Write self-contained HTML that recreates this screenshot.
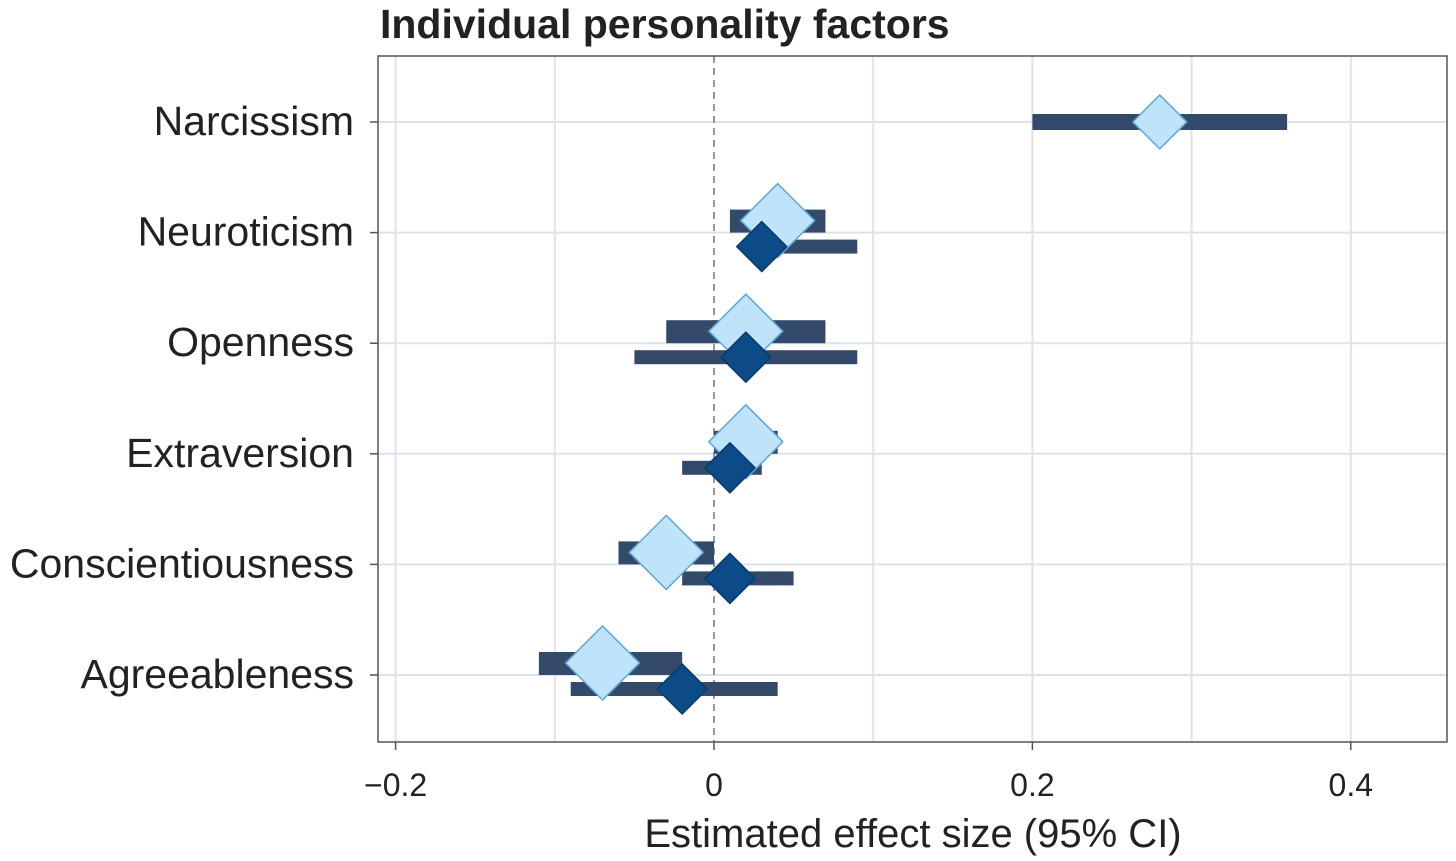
<!DOCTYPE html>
<html><head><meta charset="utf-8"><style>
body{margin:0;background:#fff;}
svg{display:block;font-family:"Liberation Sans",sans-serif;}
</style></head><body>
<svg id="chart" width="1456" height="861">
<text x="380" y="38" font-size="41" font-weight="bold" fill="#222">Individual personality factors</text>
<g id="grid"></g>
<g id="marks"></g>
<rect x="378" y="56" width="1069" height="686" fill="none" stroke="#555" stroke-width="1.5"/>
<g id="axes"></g>
<text x="913" y="847" font-size="40" text-anchor="middle" fill="#222">Estimated effect size (95% CI)</text>
</svg>
<script>
const categories=["Narcissism","Neuroticism","Openness","Extraversion","Conscientiousness","Agreeableness"];
const lightEst=[0.28,0.04,0.02,0.02,-0.03,-0.07];
const lightLo=[0.20,0.01,-0.03,0.00,-0.06,-0.11];
const lightHi=[0.36,0.07,0.07,0.04,0.00,-0.02];
const darkEst=[null,0.03,0.02,0.01,0.01,-0.02];
const darkLo=[null,0.02,-0.05,-0.02,-0.02,-0.09];
const darkHi=[null,0.09,0.09,0.03,0.05,0.04];
const xTicks=[-0.2,0,0.2,0.4];
const xTickLabels=["\u22120.2","0","0.2","0.4"];
const xGrid=[-0.2,-0.1,0.1,0.2,0.3,0.4];

const NS="http://www.w3.org/2000/svg";
const x=v=>714+(v-0)*1592;
const y=i=>122+i*110.6;
function mk(tag,attrs,parent){const e=document.createElementNS(NS,tag);for(const k in attrs)e.setAttribute(k,attrs[k]);parent.appendChild(e);return e;}
const grid=document.getElementById('grid'),marks=document.getElementById('marks'),axes=document.getElementById('axes');
xGrid.forEach(v=>{const l=mk('line',{x1:x(v),x2:x(v),y1:56,y2:742,stroke:'#dde3ec','stroke-width':2},grid);

});
categories.forEach((c,i)=>{const l=mk('line',{x1:378,x2:1447,y1:y(i),y2:y(i),stroke:'#dde3ec','stroke-width':2},grid);

});
const z=mk('line',{x1:x(0),x2:x(0),y1:56,y2:742,stroke:'#777','stroke-width':1.5,'stroke-dasharray':'7,5'},grid);


function diamond(cx,cy,h,fill,stroke,name){const p=mk('polygon',{points:`${cx},${cy-h} ${cx+h},${cy} ${cx},${cy+h} ${cx-h},${cy}`,fill:fill,stroke:stroke,'stroke-width':1.5},marks);

}
categories.forEach((c,i)=>{
 const single=darkEst[i]===null;
 const ly=single?y(i):y(i)-12;
 const dy=y(i)+14;
 const b=mk('rect',{x:x(lightLo[i]),y:ly-(single?8:11),width:x(lightHi[i])-x(lightLo[i]),height:single?16:23,fill:'#344a6b'},marks);
 
 
 if(!single){const b2=mk('rect',{x:x(darkLo[i]),y:dy-7,width:x(darkHi[i])-x(darkLo[i]),height:14,fill:'#344a6b'},marks);
 
 }
 diamond(x(lightEst[i]),ly,single?27:37,'#bfe3f8','#5ba7da','estimate-'+c.toLowerCase());
 if(!single)diamond(x(darkEst[i]),dy,25,'#0c4a88','#083a6c','estimate-dark-'+c.toLowerCase());
 const t=mk('text',{x:354,y:y(i)+13,'font-size':41,'text-anchor':'end',fill:'#222'},axes);t.textContent=c;
 
 
 const tk=mk('line',{x1:370,x2:378,y1:y(i),y2:y(i),stroke:'#555','stroke-width':1.5},axes);
 
 
});
xTicks.forEach((v,i)=>{const tk=mk('line',{x1:x(v),x2:x(v),y1:742,y2:750,stroke:'#555','stroke-width':1.5},axes);
 
 
 const t=mk('text',{x:x(v),y:796,'font-size':32,'text-anchor':'middle',fill:'#222'},axes);t.textContent=xTickLabels[i];
 
 });
</script>
</body></html>
